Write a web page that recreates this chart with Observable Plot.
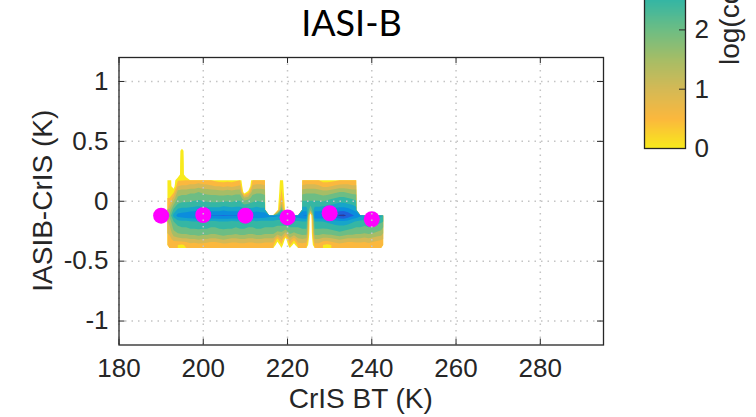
<!DOCTYPE html>
<html><head><meta charset="utf-8">
<script src="https://cdn.jsdelivr.net/npm/d3@7"></script>
<script src="https://cdn.jsdelivr.net/npm/@observablehq/plot@0.6"></script>
<style>
html,body{margin:0;padding:0;background:#fff;}
#wrap{position:relative;width:756px;height:417px;overflow:hidden;background:#fff;}
#wrap > svg{position:absolute;}
</style></head><body><div id="wrap"></div>
<script>
const _ = -50; // empty bin (log of zero counts, clipped)
const titleText = "IASI-B";
const xLabel = "CrIS BT (K)";
const yLabel = "IASIB-CrIS (K)";
const cbLabel = "log(counts)";
const xTicks = [180, 200, 220, 240, 260, 280];
const yTicks = [-1, -0.5, 0, 0.5, 1];
const cbTicks = [0, 1, 2];
const levels = [0, 0.5, 1, 1.5, 2, 2.5, 3, 3.5, 4, 4.5];
const levelColors = ["#f8ea1c", "#fbb83e", "#d5b955", "#a6bd66", "#6dbd84", "#35b6a4",
                     "#17a5c9", "#0b8ddd", "#1f60dc", "#2d3a97", "#352a87"];
// mean difference per CrIS BT bin (magenta markers)
const meanBT = [190, 200, 210, 220, 230, 240];
const meanDiff = [-0.12, -0.115, -0.12, -0.135, -0.1, -0.15];
// density grid: log10(counts), one column per CrIS BT bin (191.5 K .. 242.7 K),
// 18 rows from top (0.47 K) to bottom (-0.365 K)
const gridCols = [
  [_,_,_,_,_,_, 0.2,0.25,0.3,0.5,0.9,1.6,2.1,1.7,1.4,1.1,0.8,0.6],
  [_,_,_,_,_,_, -0.3,-0.3,0.4,1.2,1.9,2.6,3.2,2.5,2.2,1.8,1.2,0.6],
  [_,-0.5,-0.5,-0.5,-0.5,-0.5, 0.45,1.0,1.7,2.1,2.5,3.1,3.7,2.8,2.4,2.0,1.3,0.5],
  [-0.5,0.3,0.35,0.4,0.42,0.45, 0.48,1.1,1.8,2.2,2.6,3.2,3.8,2.9,2.5,2.1,1.4,0.4],
  [_,-0.5,-0.5,-0.5,-0.5,-0.5, 0.5,1.1,1.8,2.2,2.6,3.2,3.9,2.9,2.5,2.1,1.4,0.6],
  [_,_,_,_,_,_, 0.6,1.2,1.9,2.3,2.6,3.3,3.95,2.95,2.6,2.2,1.5,0.8],
  [_,_,_,_,_,_, 0.6,1.2,1.9,2.3,2.7,3.3,4.0,3.0,2.6,2.2,1.5,0.7],
  [_,_,_,_,_,_, 0.7,1.3,2.0,2.4,2.7,3.4,4.05,3.0,2.6,2.3,1.6,0.8],
  [_,_,_,_,_,_, 0.6,1.2,1.9,2.3,2.7,3.3,4.05,3.0,2.6,2.2,1.5,0.8],
  [_,_,_,_,_,_, 0.5,1.2,1.8,2.3,2.6,3.3,4.05,3.0,2.6,2.2,1.5,0.7],
  [_,_,_,_,_,_, 0.5,1.1,1.8,2.2,2.6,3.3,4.05,2.9,2.5,2.1,1.4,0.6],
  [_,_,_,_,_,_, 0.4,1.0,1.8,2.2,2.6,3.3,4.05,2.9,2.5,2.1,1.4,0.6],
  [_,_,_,_,_,_, 0.3,1.0,1.7,2.2,2.6,3.3,4.05,3.0,2.6,2.2,1.5,0.7],
  [_,_,_,_,_,_, 0.3,0.9,1.7,2.2,2.7,3.4,4.05,3.0,2.6,2.3,1.6,0.8],
  [_,_,_,_,_,_, 0.35,1.0,1.8,2.2,2.7,3.3,4.05,3.0,2.6,2.2,1.5,0.8],
  [_,_,_,_,_,_, 0.3,0.9,1.7,2.2,2.6,3.3,4.05,2.9,2.6,2.2,1.4,0.7],
  [_,_,_,_,_,_, 0.4,1.0,1.8,2.3,2.7,3.3,4.05,2.95,2.5,2.1,1.4,0.7],
  [_,_,_,_,_,_, 0.5,1.1,1.8,2.3,2.7,3.3,4.0,2.95,2.6,2.2,1.5,0.8],
  [_,_,_,_,_,_, -1,-1,-0.5,1.6,2.4,3.2,3.9,2.9,2.6,2.2,1.5,0.8],
  [_,_,_,_,_,_, -1,-1,0.3,1.8,2.5,3.2,3.9,2.9,2.5,2.1,1.4,0.7],
  [_,_,_,_,_,_, 0.5,1.1,1.8,2.2,2.6,3.2,3.9,2.9,2.5,2.1,1.4,0.7],
  [_,_,_,_,_,_, 0.6,1.2,1.9,2.3,2.7,3.3,3.95,2.95,2.6,2.2,1.5,0.8],
  [_,_,_,_,_,_, 0.6,1.2,1.9,2.3,2.6,3.2,3.9,2.9,2.6,2.2,1.5,0.8],
  [_,_,_,_,_,_, 0.5,1.1,1.8,2.2,2.6,3.2,3.85,2.9,2.5,2.1,1.4,0.7],
  [_,_,_,_,_,_, _,_,_,_,_,_,3.7,2.9,2.5,2.1,1.4,0.7],
  [_,_,_,_,_,_, _,_,_,_,_,_,3.7,2.9,2.5,2.1,1.4,0.7],
  [_,_,_,_,_,_, -0.5,-0.5,-0.5,-0.5,-0.5,-0.5,3.6,2.8,2.4,1.8,0.4,-0.5],
  [_,_,_,_,_,_, 0.3,0.45,0.6,0.9,1.5,2.5,3.6,2.8,2.4,1.9,1.2,0.4],
  [_,_,_,_,_,_, -0.5,-0.5,-0.5,-0.5,-0.5,-0.5,3.6,2.8,2.4,1.3,-0.3,-0.8],
  [_,_,_,_,_,_, _,_,_,_,_,_,3.7,2.9,2.5,2.1,1.3,0.6],
  [_,_,_,_,_,_, _,_,_,_,_,_,3.7,2.9,2.5,1.9,0.7,-0.3],
  [_,_,_,_,_,_, _,_,_,_,_,_,3.8,2.95,2.5,2.1,1.4,0.7],
  [_,_,_,_,_,_, 0.5,1.1,1.8,2.3,2.7,3.3,4.0,3.0,2.6,2.2,1.5,0.8],
  [_,_,_,_,_,_, 0.6,1.2,1.9,2.3,2.7,3.3,4.05,3.0,2.6,2.2,1.4,0.7],
  [_,_,_,_,_,_, 0.6,1.2,1.9,2.3,2.7,2.0,-1,-1,-1,-1,-1,-1],
  [_,_,_,_,_,_, 0.6,1.2,1.9,2.3,2.7,3.3,4.0,3.0,2.6,2.2,1.5,0.8],
  [_,_,_,_,_,_, 0.5,1.1,1.8,2.3,2.7,3.3,4.0,3.0,2.6,2.2,1.5,0.8],
  [_,_,_,_,_,_, 0.3,0.9,1.7,2.2,2.7,3.4,4.0,3.0,2.6,2.1,1.3,0.5],
  [_,_,_,_,_,_, 0.3,0.9,1.7,2.3,2.8,3.5,4.1,3.1,2.6,2.2,1.3,0.4],
  [_,_,_,_,_,_, 0.35,1.0,1.8,2.4,2.9,3.5,4.2,3.2,2.7,2.2,1.4,0.5],
  [_,_,_,_,_,_, 0.4,1.1,1.9,2.5,3.0,3.7,4.4,3.3,2.8,2.3,1.5,0.7],
  [_,_,_,_,_,_, 0.5,1.2,2.0,2.6,3.1,3.8,4.6,3.4,2.8,2.4,1.6,0.8],
  [_,_,_,_,_,_, 0.6,1.2,2.0,2.6,3.1,3.8,4.65,3.4,2.8,2.3,1.5,0.7],
  [_,_,_,_,_,_, 0.6,1.2,1.9,2.5,3.0,3.7,4.4,3.3,2.7,2.2,1.4,0.6],
  [_,_,_,_,_,_, 0.5,1.1,1.8,2.4,2.9,3.5,4.1,3.1,2.6,2.2,1.4,0.6],
  [_,_,_,_,_,_, 0.5,1.1,1.8,2.3,2.7,3.3,3.9,2.95,2.5,2.1,1.4,0.7],
  [_,_,_,_,_,_, _,_,_,_,_,_,3.6,2.9,2.5,2.1,1.4,0.7],
  [_,_,_,_,_,_, _,_,_,_,_,_,3.5,2.85,2.4,2.0,1.3,0.7],
  [_,_,_,_,_,_, _,_,_,_,_,_,3.5,2.9,2.5,2.1,1.4,0.8],
  [_,_,_,_,_,_, _,_,_,_,_,_,3.4,2.8,2.4,2.0,1.3,0.7],
  [_,_,_,_,_,_, _,_,_,_,_,_,3.3,2.7,2.3,1.9,1.2,0.6],
  [_,_,_,_,_,_, _,_,_,_,_,_,3.1,2.6,2.2,1.8,1.1,0.5]
];
const gridExtent = {x1: 191.5, x2: 242.7, y1: 0.4943, y2: -0.3897};

// ---- build ----
const W = gridCols.length, H = gridCols[0].length;
const values = new Array(W * H);
for (let r = 0; r < H; r++) for (let j = 0; j < W; j++) values[r * W + j] = gridCols[j][r];

const colorOpts = {type: "linear", domain: [0, 5], interpolate: d3.piecewise(d3.interpolateRgb, levelColors)};
const ink = "#262626";
const font = "'Liberation Sans', Arial, Helvetica, sans-serif";

const M = {width: 620, height: 417, left: 118.5, right: 17, top: 57, bottom: 72.5};
const innerW = M.width - M.left - M.right, innerH = M.height - M.top - M.bottom;
const tickLen = 6;
const fmt = d => String(d);
const means = meanBT.map((x, i) => ({x, y: meanDiff[i]}));

const main = Plot.plot({
  width: M.width, height: M.height,
  marginLeft: M.left, marginRight: M.right, marginTop: M.top, marginBottom: M.bottom,
  x: {domain: [180, 295], ticks: xTicks, tickSize: 0, tickPadding: 14, tickFormat: fmt, label: null},
  y: {domain: [-1.2, 1.2], ticks: yTicks, tickSize: 0, tickPadding: 10.5, tickFormat: fmt, label: null},
  color: colorOpts,
  style: {fontFamily: font, fontSize: "26px", color: ink, background: "transparent", overflow: "visible"},
  marks: [
    Plot.contour(values, {width: W, height: H, ...gridExtent, thresholds: levels, fill: Plot.identity, interpolate: "none", blur: 0}),
    Plot.dot(means, {x: "x", y: "y", r: 8, fill: "#ff00ff"}),
    Plot.ruleX(xTicks, {x: d => d, stroke: "#c4c4c4", strokeWidth: 1.5, strokeDasharray: "1.5,5"}),
    Plot.ruleY(yTicks, {y: d => d, stroke: "#c4c4c4", strokeWidth: 1.5, strokeDasharray: "1.5,5"}),
    Plot.tickX(xTicks, {x: d => d, stroke: ink, insetTop: innerH - tickLen}),
    Plot.tickX(xTicks, {x: d => d, stroke: ink, insetBottom: innerH - tickLen}),
    Plot.tickY(yTicks, {y: d => d, stroke: ink, insetRight: innerW - tickLen}),
    Plot.tickY(yTicks, {y: d => d, stroke: ink, insetLeft: innerW - tickLen}),
    Plot.frame({stroke: ink, strokeWidth: 1.3})
  ]
});
main.style.left = "0px"; main.style.top = "0px";

const CB = {left: 600, top: -160, width: 156, height: 318, ml: 44, mr: 71, mt: 11.5, mb: 10};
const cbInnerW = CB.width - CB.ml - CB.mr;
const cb = Plot.plot({
  width: CB.width, height: CB.height,
  marginLeft: CB.ml, marginRight: CB.mr, marginTop: CB.mt, marginBottom: CB.mb,
  x: {domain: [0, 1], axis: null},
  y: {domain: [0, 5], axis: "right", ticks: cbTicks, tickSize: 0, tickPadding: 9, tickFormat: fmt, label: null},
  color: colorOpts,
  style: {fontFamily: font, fontSize: "26px", color: ink, background: "transparent", overflow: "visible"},
  marks: [
    Plot.raster({x1: 0, x2: 1, y1: 0, y2: 5, width: 1, height: 300, fill: (x, y) => y, imageRendering: "auto"}),
    Plot.tickY(cbTicks, {y: d => d, stroke: ink, insetLeft: cbInnerW - tickLen}),
    Plot.frame({stroke: ink, strokeWidth: 1.3})
  ]
});
cb.style.left = CB.left + "px"; cb.style.top = CB.top + "px";

const wrap = document.getElementById("wrap");
wrap.appendChild(main);
wrap.appendChild(cb);
wrap.insertAdjacentHTML("beforeend", `
<svg width="756" height="417" style="left:0;top:0;pointer-events:none" xmlns="http://www.w3.org/2000/svg">
  <text x="360.75" y="408" text-anchor="middle" font-family="${font}" font-size="28" fill="${ink}">${xLabel}</text>
  <text transform="translate(52,200.75) rotate(-90)" text-anchor="middle" font-family="${font}" font-size="28" fill="${ink}">${yLabel}</text>
  <text transform="translate(739,65) rotate(-90)" text-anchor="start" font-family="${font}" font-size="28" fill="${ink}">${cbLabel}</text>
  <text x="351.5" y="36" text-anchor="middle" font-family="Lato, 'Open Sans', sans-serif" font-size="36" fill="#000">${titleText}</text>
</svg>`);
</script></body></html>
